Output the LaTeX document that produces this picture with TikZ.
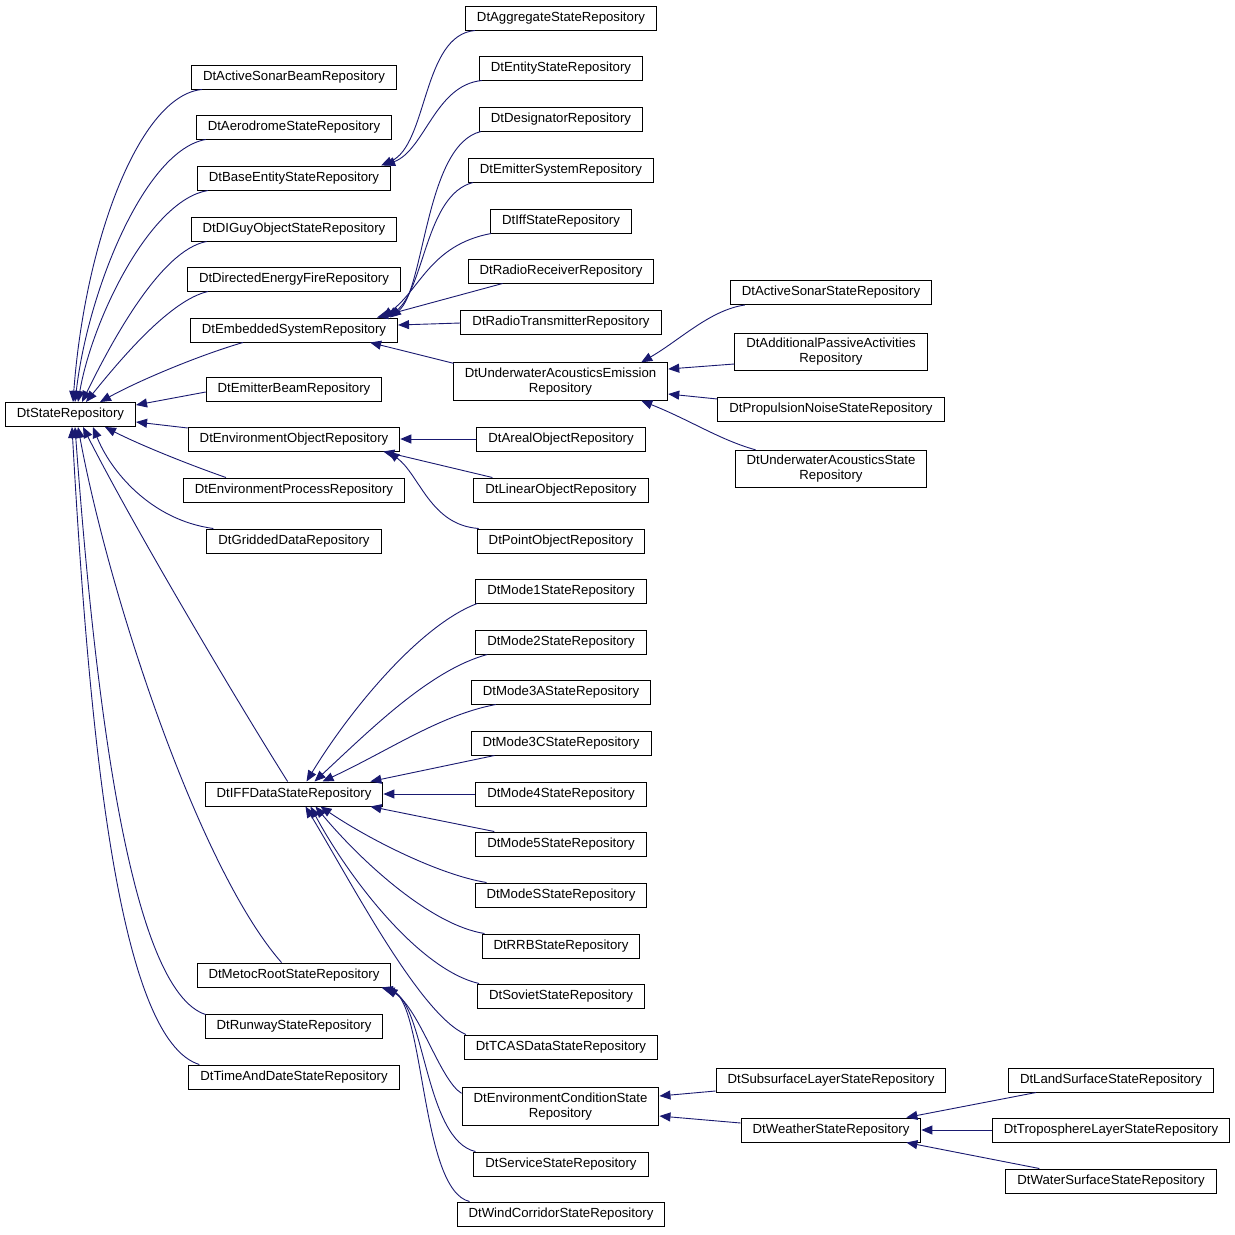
\documentclass[tikz,border=0pt]{standalone}
\usepackage{fontspec}
\setmainfont{Liberation Sans}
\usetikzlibrary{arrows.meta}
\definecolor{edgeblue}{RGB}{25,25,112}
\definecolor{boxline}{RGB}{0,0,0}

\begin{document}
\begin{tikzpicture}[x=1pt, y=-1pt,
    % Node styles
    cls/.style={rectangle, draw=boxline, line width=1pt, fill=white, minimum height=24pt,
                inner xsep=11.5pt, inner ysep=5pt, align=center, font=\fontsize{13.2}{15}\selectfont},
    % Arrow styles
    inherit/.style={{Triangle[length=11pt, width=9pt]}-, draw=edgeblue, line width=0.9pt}
]

% Canvas
\fill[white] (0,0) rectangle (1235,1235);
\useasboundingbox (0,0) rectangle (1235,1235);

% Base class
\node[cls] (state_repo) at (70.5,414.5) {DtStateRepository};

% Direct subclasses
\node[cls] (active_sonar_beam) at (294,77) {DtActiveSonarBeamRepository};
\node[cls] (aerodrome) at (294,127) {DtAerodromeStateRepository};
\node[cls] (base_entity) at (294,178) {DtBaseEntityStateRepository};
\node[cls] (di_guy) at (294,229) {DtDIGuyObjectStateRepository};
\node[cls] (directed_energy) at (294,279) {DtDirectedEnergyFireRepository};
\node[cls] (embedded_system) at (294,330) {DtEmbeddedSystemRepository};
\node[cls] (emitter_beam) at (294,389) {DtEmitterBeamRepository};
\node[cls] (env_object) at (294,439) {DtEnvironmentObjectRepository};
\node[cls] (env_process) at (294,490) {DtEnvironmentProcessRepository};
\node[cls] (gridded_data) at (294,541) {DtGriddedDataRepository};
\node[cls] (iff_data) at (294,794) {DtIFFDataStateRepository};
\node[cls] (metoc_root) at (294,975) {DtMetocRootStateRepository};
\node[cls] (runway) at (294,1026) {DtRunwayStateRepository};
\node[cls] (time_date) at (294,1077) {DtTimeAndDateStateRepository};

% Third column
\node[cls] (aggregate) at (561,18) {DtAggregateStateRepository};
\node[cls] (entity_state) at (561,68) {DtEntityStateRepository};
\node[cls] (designator) at (561,119) {DtDesignatorRepository};
\node[cls] (emitter_system) at (561,170) {DtEmitterSystemRepository};
\node[cls] (iff_state) at (561,221) {DtIffStateRepository};
\node[cls] (radio_rx) at (561,271) {DtRadioReceiverRepository};
\node[cls] (radio_tx) at (561,322) {DtRadioTransmitterRepository};
\node[cls] (uw_emission) at (560.5,381.5) {DtUnderwaterAcousticsEmission\\Repository};
\node[cls] (areal) at (561,439) {DtArealObjectRepository};
\node[cls] (linear) at (561,490) {DtLinearObjectRepository};
\node[cls] (point) at (561,541) {DtPointObjectRepository};
\node[cls] (mode1) at (561,591) {DtMode1StateRepository};
\node[cls] (mode2) at (561,642) {DtMode2StateRepository};
\node[cls] (mode3a) at (561,692) {DtMode3AStateRepository};
\node[cls] (mode3c) at (561,743) {DtMode3CStateRepository};
\node[cls] (mode4) at (561,794) {DtMode4StateRepository};
\node[cls] (mode5) at (561,844) {DtMode5StateRepository};
\node[cls] (mode_s) at (561,895) {DtModeSStateRepository};
\node[cls] (rrb) at (561,946) {DtRRBStateRepository};
\node[cls] (soviet) at (561,996) {DtSovietStateRepository};
\node[cls] (tcas) at (561,1047) {DtTCASDataStateRepository};
\node[cls] (env_condition) at (560.5,1106.5) {DtEnvironmentConditionState\\Repository};
\node[cls] (service) at (561,1164) {DtServiceStateRepository};
\node[cls] (wind_corridor) at (561,1214) {DtWindCorridorStateRepository};

% Fourth column
\node[cls] (active_sonar_state) at (831,292.5) {DtActiveSonarStateRepository};
\node[cls] (passive_act) at (831,352) {DtAdditionalPassiveActivities\\Repository};
\node[cls] (propulsion) at (831,409) {DtPropulsionNoiseStateRepository};
\node[cls] (uw_state) at (831,469) {DtUnderwaterAcousticsState\\Repository};
\node[cls] (subsurface) at (831,1080) {DtSubsurfaceLayerStateRepository};
\node[cls] (weather) at (831,1130) {DtWeatherStateRepository};

% Fifth column
\node[cls] (land_surface) at (1111,1080) {DtLandSurfaceStateRepository};
\node[cls] (troposphere) at (1111,1130) {DtTroposphereLayerStateRepository};
\node[cls] (water_surface) at (1111,1181) {DtWaterSurfaceStateRepository};

% Edges to DtStateRepository
\draw[inherit] ([xshift=2.5pt]state_repo.north) .. controls (85,240) and (140,95) .. ([xshift=11pt]active_sonar_beam.south west);
\draw[inherit] ([xshift=4.5pt]state_repo.north) .. controls (88,290) and (145,150) .. ([xshift=10pt]aerodrome.south west);
\draw[inherit] ([xshift=7.5pt]state_repo.north) .. controls (92,320) and (150,200) .. ([xshift=11pt]base_entity.south west);
\draw[inherit] ([xshift=11.5pt]state_repo.north) .. controls (110,345) and (160,250) .. ([xshift=16pt]di_guy.south west);
\draw[inherit] ([xshift=15.5pt]state_repo.north) .. controls (120,360) and (170,300) .. ([xshift=21pt]directed_energy.south west);
\draw[inherit] ([xshift=29.5pt]state_repo.north) .. controls (140,380) and (200,355) .. ([xshift=53pt]embedded_system.south west);
\draw[inherit] ([yshift=9.5pt]state_repo.east) -- ([yshift=-3pt]emitter_beam.west);
\draw[inherit] ([yshift=-7.5pt]state_repo.east) -- ([yshift=11pt]env_object.west);
\draw[inherit] ([xshift=34.5pt]state_repo.south) .. controls (140,445) and (190,465) .. ([xshift=43pt]env_process.north west);
\draw[inherit] ([xshift=22.5pt]state_repo.south) .. controls (110,470) and (150,520) .. ([xshift=7pt]gridded_data.north west);
\draw[inherit] ([xshift=12.5pt]state_repo.south) .. controls (130,520) and (230,690) .. ([xshift=83pt]iff_data.north west);
\draw[inherit] ([xshift=7.5pt]state_repo.south) .. controls (110,600) and (200,870) .. ([xshift=85pt]metoc_root.north west);
\draw[inherit] ([xshift=4.5pt]state_repo.south) .. controls (95,700) and (130,990) .. ([xshift=1pt,yshift=-1pt]runway.north west);
\draw[inherit] ([xshift=1.5pt]state_repo.south) .. controls (90,750) and (120,1040) .. ([xshift=11pt]time_date.north west);

% Edges to DtBaseEntityStateRepository
\draw[inherit] ([xshift=-10pt]base_entity.north east) .. controls (428,145) and (422,35) .. ([xshift=10pt]aggregate.south west);
\draw[inherit] ([xshift=-7pt]base_entity.north east) .. controls (425,150) and (435,85) .. ([xshift=3pt]entity_state.south west);

% Edges to DtEmbeddedSystemRepository
\draw[inherit] ([xshift=-8pt]embedded_system.north east) .. controls (425,290) and (425,145) .. ([xshift=2pt]designator.south west);
\draw[inherit] ([xshift=-11pt]embedded_system.north east) .. controls (425,290) and (425,195) .. ([xshift=5pt]emitter_system.south west);
\draw[inherit] ([xshift=-16pt]embedded_system.north east) .. controls (420,290) and (430,245) .. ([xshift=1pt]iff_state.south west);
\draw[inherit] ([xshift=-21pt]embedded_system.north east) -- ([xshift=35pt]radio_rx.south west);
\draw[inherit] ([yshift=5pt]embedded_system.east) -- ([yshift=-1pt]radio_tx.west);
\draw[inherit] ([xshift=-28pt]embedded_system.south east) -- ([xshift=1pt,yshift=-1pt]uw_emission.north west);

% Edges to DtUnderwaterAcousticsEmissionRepository
\draw[inherit] ([xshift=-27pt]uw_emission.north east) .. controls (680,340) and (710,310) .. ([xshift=15pt]active_sonar_state.south west);
\draw[inherit] ([yshift=12.5pt]uw_emission.east) -- ([yshift=-12pt]passive_act.west);
\draw[inherit] ([yshift=-12.5pt]uw_emission.east) -- ([yshift=10pt]propulsion.west);
\draw[inherit] ([xshift=-27pt]uw_emission.south east) .. controls (690,420) and (720,440) .. ([xshift=21pt]uw_state.north west);

% Edges to DtEnvironmentObjectRepository
\draw[inherit] (env_object.east) -- (areal.west);
\draw[inherit] ([xshift=-17pt]env_object.south east) -- ([xshift=19pt]linear.north west);
\draw[inherit] ([xshift=-12pt]env_object.south east) .. controls (420,475) and (430,525) .. ([xshift=2pt]point.north west);

% Edges to DtIFFDataStateRepository
\draw[inherit] ([xshift=12.5pt]iff_data.north) .. controls (350,710) and (420,625) .. ([xshift=2pt]mode1.south west);
\draw[inherit] ([xshift=20.5pt]iff_data.north) .. controls (370,730) and (430,670) .. ([xshift=12pt]mode2.south west);
\draw[inherit] ([xshift=28.5pt]iff_data.north) .. controls (390,750) and (440,715) .. ([xshift=25pt]mode3a.south west);
\draw[inherit] ([xshift=-13pt]iff_data.north east) -- ([xshift=24pt]mode3c.south west);
\draw[inherit] (iff_data.east) -- (mode4.west);
\draw[inherit] ([xshift=-13pt]iff_data.south east) -- ([xshift=19pt]mode5.north west);
\draw[inherit] ([xshift=26.5pt]iff_data.south) .. controls (370,840) and (440,875) .. ([xshift=12pt]mode_s.north west);
\draw[inherit] ([xshift=21.5pt]iff_data.south) .. controls (360,860) and (430,925) .. ([xshift=3pt]rrb.north west);
\draw[inherit] ([xshift=16.5pt]iff_data.south) .. controls (350,880) and (420,970) .. ([xshift=2pt]soviet.north west);
\draw[inherit] ([xshift=11.5pt]iff_data.south) .. controls (350,880) and (420,1015) .. ([xshift=2pt]tcas.north west);

% Edges to DtMetocRootStateRepository
\draw[inherit] ([xshift=-5pt]metoc_root.south east) .. controls (420,1010) and (440,1080) .. ([yshift=-6pt]env_condition.north west);
\draw[inherit] ([xshift=-8pt]metoc_root.south east) .. controls (425,1005) and (425,1140) .. ([xshift=2pt]service.north west);
\draw[inherit] ([xshift=-10pt]metoc_root.south east) .. controls (425,1000) and (420,1190) .. ([xshift=13pt]wind_corridor.north west);

% Edges to DtEnvironmentConditionStateRepository
\draw[inherit] ([yshift=10.5pt]env_condition.east) -- ([yshift=-11pt]subsurface.west);
\draw[inherit] ([yshift=-9.5pt]env_condition.east) -- ([yshift=7pt]weather.west);

% Edges to DtWeatherStateRepository
\draw[inherit] ([xshift=-15pt]weather.north east) -- ([xshift=28pt]land_surface.south west);
\draw[inherit] (weather.east) -- (troposphere.west);
\draw[inherit] ([xshift=-15pt]weather.south east) -- ([xshift=34pt]water_surface.north west);

\end{tikzpicture}
\end{document}
